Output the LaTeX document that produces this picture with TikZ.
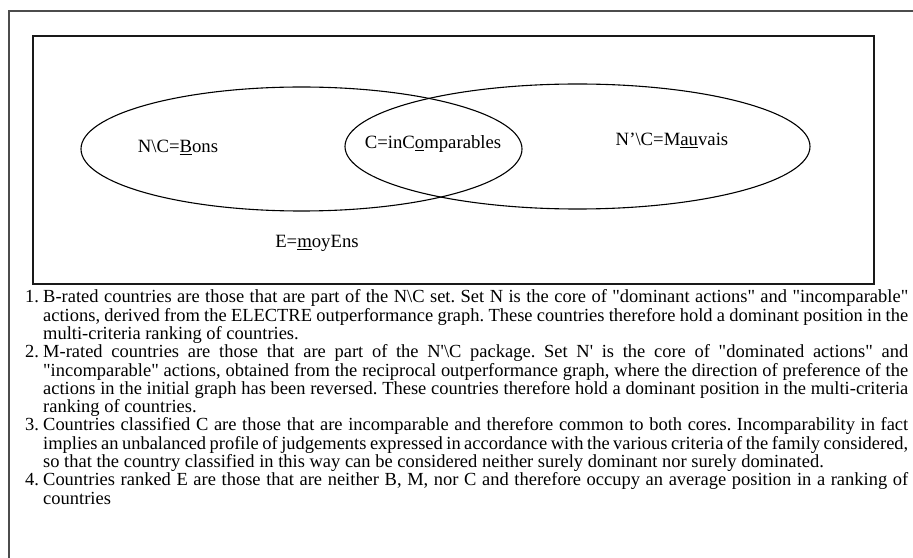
\documentclass[tikz,border=0pt]{standalone}
\usepackage{fontspec}
\setmainfont{Liberation Serif}
\frenchspacing
\newcommand\jl[1]{\makebox[865bp][s]{#1}}
\newcommand\num[1]{\makebox[18bp][l]{#1}}
\newcommand\ind{\hspace*{18bp}}
\newcommand\bs{\textbackslash}
\newcommand\sq{\textquotesingle}
\newcommand\dq{\textquotedbl}
\begin{document}
\begin{tikzpicture}[x=1bp,y=-1bp,
  frame/.style={line width=1.2bp, draw=black!70},
  innerbox/.style={line width=1.4bp, draw=black!90},
  setshape/.style={line width=1.1bp, draw=black},
  lbl/.style={font=\fontsize{18.8}{18.8}\selectfont, inner sep=0pt, anchor=base},
  notes/.style={font=\fontsize{18.55}{18.35}\selectfont, inner sep=0pt, align=left, anchor=north west}]
\useasboundingbox (0,0) rectangle (913,558);
% outer frame
\coordinate (fA) at (9,558);
\coordinate (fB) at (9,11);
\coordinate (fC) at (913,11);
\draw[frame] (fA) -- (fB) -- (fC);
% inner box
\coordinate (bA) at (33,36);
\coordinate (bB) at (874,284);
\draw[innerbox] (bA) rectangle (bB);
% sets
\draw[setshape] (301.5,149) ellipse [x radius=220.5, y radius=62];
\draw[setshape] (577.5,146.5) ellipse [x radius=232.5, y radius=62.5];
% labels
\node[lbl] (bons) at (178,153) {N\bs C=\underline{B}ons};
\node[lbl] (comp) at (433,149) {C=inC\underline{o}mparables};
\node[lbl] (mauv) at (672,146) {N’\bs C=M\underline{au}vais};
\node[lbl] (moy) at (317,248) {E=\underline{m}oyEns};
% notes
\node[notes] (list) at (25,289.7) {%
\num{1.}\jl{B-rated countries are those that are part of the N\bs C set. Set N is the core of \dq dominant actions\dq{} and \dq incomparable\dq}\\
\ind\jl{actions, derived from the ELECTRE outperformance graph. These countries therefore hold a dominant position in the}\\
\ind multi-criteria ranking of countries.\\
\num{2.}\jl{M-rated countries are those that are part of the N\sq\bs C package. Set N\sq{} is the core of \dq dominated actions\dq{} and}\\
\ind\jl{\dq incomparable\dq{} actions, obtained from the reciprocal outperformance graph, where the direction of preference of the}\\
\ind\jl{actions in the initial graph has been reversed. These countries therefore hold a dominant position in the multi-criteria}\\
\ind ranking of countries.\\
\num{3.}\jl{Countries classified C are those that are incomparable and therefore common to both cores. Incomparability in fact}\\
\ind\jl{implies an unbalanced profile of judgements expressed in accordance with the various criteria of the family considered,}\\
\ind so that the country classified in this way can be considered neither surely dominant nor surely dominated.\\
\num{4.}\jl{Countries ranked E are those that are neither B, M, nor C and therefore occupy an average position in a ranking of}\\
\ind countries};
\end{tikzpicture}
\end{document}
